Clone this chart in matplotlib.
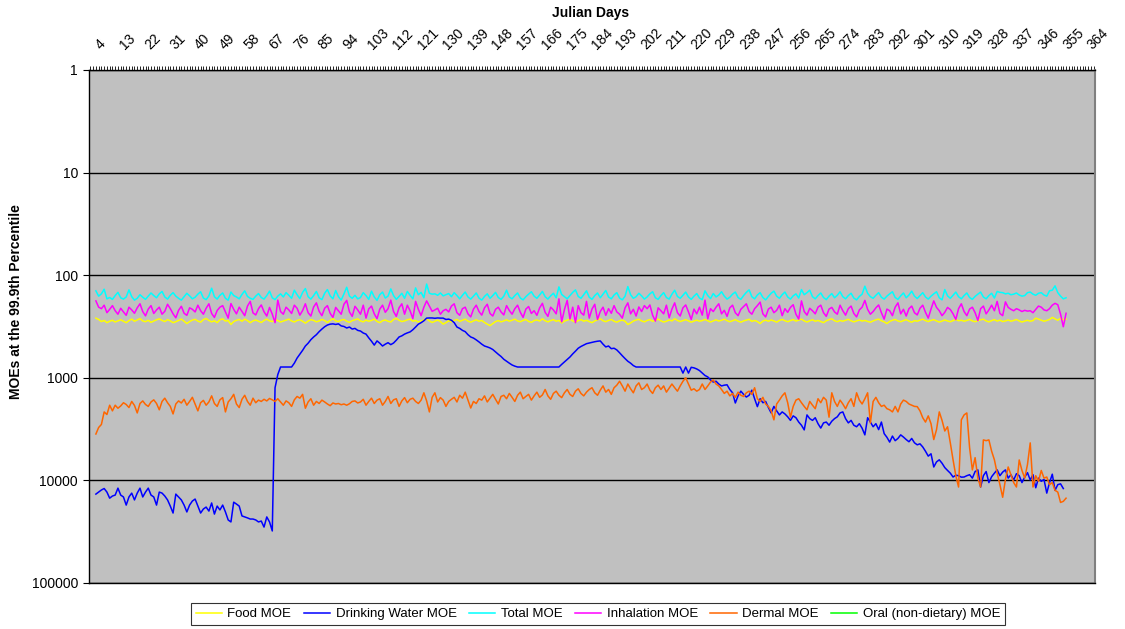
import matplotlib
matplotlib.use('Agg')
import matplotlib.pyplot as plt
from matplotlib.transforms import ScaledTranslation
from matplotlib.ticker import NullLocator
import numpy as np

plt.rcParams['font.family'] = ['Liberation Sans', 'DejaVu Sans']

FIRST_DAY = 3
xtick_days = list(range(4, 365, 9))
xtick_labels = [str(d) for d in xtick_days]
ytick_vals = [1, 10, 100, 1000, 10000, 100000]
ytick_labels = ["1", "10", "100", "1000", "10000", "100000"]

food = [
    262, 270, 283, 276, 290, 281, 275, 286, 279, 272,
    281, 290, 277, 268, 281, 273, 265, 279, 284, 275,
    288, 280, 272, 266, 276, 283, 271, 279, 290, 284,
    276, 268, 281, 296, 283, 274, 269, 280, 287, 271,
    264, 276, 285, 278, 290, 272, 266, 280, 277, 302,
    283, 275, 270, 281, 268, 277, 290, 279, 273, 281,
    289, 276, 268, 279, 283, 271, 277, 286, 280, 274,
    268, 279, 286, 276, 272, 281, 293, 280, 271, 276,
    285, 279, 270, 277, 289, 276, 265, 279, 283, 274,
    270, 281, 288, 277, 272, 266, 279, 285, 274, 281,
    276, 268, 282, 290, 278, 273, 281, 286, 270, 263,
    275, 283, 279, 272, 268, 281, 276, 286, 279, 273,
    266, 279, 289, 281, 274, 283, 300, 290, 278, 285,
    276, 270, 282, 275, 268, 280, 287, 279, 272, 281,
    276, 289, 300, 310, 296, 283, 277, 285, 279, 272,
    281, 275, 268, 279, 284, 276, 270, 282, 288, 277,
    273, 280, 266, 278, 285, 277, 271, 281, 276, 292,
    280, 274, 268, 279, 286, 277, 271, 281, 275, 283,
    290, 279, 272, 266, 278, 284, 276, 270, 281, 287,
    278, 274, 281, 302, 292, 280, 273, 269, 279, 285,
    276, 271, 281, 276, 268, 278, 286, 281, 273, 279,
    266, 276, 283, 277, 271, 279, 287, 280, 274, 281,
    277, 270, 278, 286, 279, 272, 280, 275, 268, 277,
    284, 278, 271, 280, 287, 279, 274, 269, 282, 276,
    283, 296, 280, 274, 281, 273, 279, 287, 276, 270,
    278, 284, 277, 271, 280, 274, 268, 279, 286, 278,
    272, 281, 276, 283, 290, 278, 271, 266, 278, 284,
    276, 281, 275, 269, 278, 285, 279, 273, 280, 276,
    282, 287, 279, 272, 268, 278, 285, 296, 282, 275,
    270, 279, 284, 277, 271, 280, 287, 277, 281, 274,
    268, 277, 283, 276, 271, 279, 286, 280, 273, 279,
    284, 277, 270, 278, 275, 281, 276, 270, 279, 284,
    277, 272, 268, 279, 285, 277, 271, 280, 274, 283,
    279, 273, 281, 276, 270, 279, 286, 280, 275, 281,
    277, 262, 268, 274, 281, 276, 270, 258, 266, 275,
    263, 272, 268,
]

drinking_water = [
    13600, 13000, 12400, 12000, 13000, 14900, 14200, 13900, 11900, 13900,
    14500, 17400, 14500, 13300, 15500, 13300, 11900, 14500, 13000, 11900,
    13900, 14500, 17400, 13000, 13300, 14200, 15500, 17800, 20800, 13600,
    14500, 15500, 17400, 20300, 17400, 15900, 15200, 17800, 20800, 19000,
    18200, 19900, 16600, 21300, 17800, 19400, 17400, 20300, 24300, 25400,
    16300, 17000, 17800, 22200, 22700, 23200, 23800, 23800, 24300, 25400,
    24900, 28500, 22700, 25400, 31100,
    1250, 930, 785, 785, 785, 785, 785, 720, 642, 590,
    540, 490, 460, 425, 400, 380, 355, 335, 318, 306,
    300, 298, 302, 298, 312, 316, 327, 320, 335, 330,
    345, 350, 366, 375, 408, 440, 480, 437, 460, 490,
    470, 455, 475, 458, 430, 400, 390, 375, 365, 357,
    340, 320, 300, 290, 278, 262, 261, 261, 263, 261,
    262, 262, 270, 268, 275, 290, 320, 330, 345, 355,
    380, 400, 410, 427, 447, 470, 490, 500, 512, 530,
    560, 590, 620, 660, 690, 720, 750, 770, 785, 785,
    785, 785, 785, 785, 785, 785, 785, 785, 785, 785,
    785, 785, 785, 785, 740, 700, 660, 627, 585, 550,
    515, 495, 480, 465, 458, 450, 445, 440, 437, 470,
    500, 490, 520, 515, 535, 570, 610, 650, 690, 720,
    760, 785, 785, 785, 785, 785, 785, 785, 785, 785,
    785, 785, 785, 785, 785, 785, 785, 785, 900, 785,
    900, 790, 800, 820, 850, 900, 950,
    980, 1050, 1100, 1080, 1150, 1200, 1180, 1170, 1300, 1400,
    1760, 1500, 1350, 1450, 1540, 1480, 1320, 1600, 1910, 1600,
    1750, 1700, 1950, 2200, 1900, 2100, 2300, 2150, 2250, 2400,
    2600, 2350, 2450, 2700, 2900, 3220, 2300, 2500, 2600, 2450,
    2800, 3090, 2750, 2700, 2900, 2650, 2500, 2400, 2200, 2150,
    2500, 2750, 2600, 2900, 3000, 2800, 3100, 3600, 2450, 2700,
    3000, 2800, 3200, 2700, 3500, 3800, 4230, 3700, 4100, 3900,
    3600, 3780, 4000, 4200, 3900, 4300, 4500, 4400, 4720, 5200,
    5800, 5500, 7400, 6600, 6300, 6800, 7500, 8000, 8500, 9270,
    8900, 9000, 9300, 9270, 9000, 8800, 9500, 8200, 7900, 11600,
    9000, 8200, 10500, 9200, 8500, 7900, 9000, 8300, 7900, 9500,
    8800, 9900, 8600, 9000, 10500, 9300, 8400, 9900, 8800, 11800,
    9500, 10200, 9800, 13300, 10500, 8700, 12500, 11000, 10800, 12000,
]

total = [
    142, 160, 152, 137, 170, 165, 172, 158, 147, 166,
    171, 163, 139, 162, 175, 168, 155, 164, 172, 160,
    149, 158, 166, 152, 144, 163, 171, 157, 148, 160,
    168, 175, 162, 150, 159, 170, 164, 153, 145, 167,
    173, 159, 134, 162, 171, 157, 149, 168, 175, 146,
    158, 163, 170, 154, 142, 161, 168, 172, 160, 151,
    165, 171, 158, 143, 166, 173, 160, 152, 163, 148,
    157, 168, 140, 155, 169, 147, 135, 162, 171, 158,
    144, 166, 173, 150, 138, 159, 170, 141, 162, 175,
    152, 131, 160, 168, 157, 170, 165, 148, 158, 172,
    143, 163, 176, 155, 146, 167, 160, 136, 158, 172,
    161, 150, 168, 144, 157, 170, 133, 155, 147, 166,
    122, 150, 153, 152, 157, 149, 159, 155, 151, 162,
    148, 158, 170, 157, 146, 163, 171, 160, 149, 167,
    175, 161, 152, 168, 158, 147, 165, 172, 160, 140,
    163, 170, 158, 149, 167, 174, 162, 153, 145, 160,
    168, 156, 144, 162, 171, 159, 150, 166, 130, 154,
    162, 170, 158, 147, 139, 161, 168, 155, 142, 164,
    172, 158, 149, 166, 153, 141, 163, 170, 156, 148,
    167, 174, 160, 129, 155, 168, 162, 150, 159, 171,
    163, 152, 145, 166, 172, 158, 148, 165, 171, 153,
    140, 161, 168, 157, 146, 163, 172, 160, 151, 167,
    173, 142, 158, 169, 151, 163, 156, 145, 160, 171,
    164, 153, 146, 165, 172, 158, 147, 139, 162, 170,
    156, 148, 165, 174, 161, 150, 143, 160, 168, 155,
    146, 163, 171, 159, 152, 167, 138, 155, 148, 140,
    162, 170, 158, 149, 165, 173, 160, 151, 166, 157,
    145, 162, 170, 158, 150, 167, 174, 161, 153, 128,
    150, 162, 168, 157, 148, 164, 171, 160, 152, 145,
    165, 172, 159, 149, 166, 156, 143, 160, 169, 158,
    148, 163, 171, 160, 152, 145, 166, 174, 138, 159,
    168, 157, 146, 162, 170, 158, 149, 165, 172, 161,
    153, 146, 163, 170, 158, 150, 167, 144, 147, 148,
    152, 150, 155, 153, 149, 156, 160, 158, 148, 146,
    153, 157, 150, 148, 156, 160, 142, 140, 127, 148,
    160, 170, 166,
]

inhalation = [
    178, 205, 212, 196, 232, 215, 198, 222, 240, 210,
    228, 246, 205, 218, 235, 208, 190, 226, 249, 214,
    198, 236, 218, 205, 240, 225, 192, 212, 238, 260,
    220, 201, 235, 246, 208, 215, 228, 196, 222, 240,
    210, 190, 236, 258, 221, 205, 198, 228, 262, 189,
    215, 238, 205, 226, 248, 200, 180, 233, 244, 212,
    195, 227, 250, 206, 240, 290, 175, 226, 240, 205,
    218, 236, 196, 210, 245, 221, 190, 232, 250, 204,
    186, 225, 248, 210, 198, 235, 258, 206, 222, 240,
    192, 176, 228, 252, 201, 218, 240, 196, 262, 213,
    200, 238, 265, 214, 196, 230, 212, 175, 226, 252,
    208, 190, 240, 196, 222, 265, 180, 215, 248, 205,
    178, 200, 225, 218, 210, 240, 222, 215, 228, 200,
    190, 232, 246, 212, 205, 238, 255, 214, 196, 226,
    245, 208, 192, 236, 250, 215, 205, 228, 244, 198,
    221, 240, 212, 196, 230, 258, 214, 202, 236, 222,
    246, 208, 188, 230, 252, 205, 218, 238, 170, 285,
    216, 176, 268, 205, 290, 198, 232, 245, 180, 262,
    214, 192, 270, 226, 205, 246, 212, 235, 198, 228,
    240, 262, 208, 186, 238, 215, 250, 204, 226, 198,
    212, 195, 246, 280, 208, 222, 238, 196, 260, 214,
    186, 232, 250, 208, 195, 228, 270, 214, 238, 205,
    245, 175, 266, 212, 226, 205, 190, 238, 220, 252,
    208, 196, 232, 248, 215, 202, 190, 226, 240, 212,
    198, 183, 238, 255, 214, 205, 232, 220, 196, 248,
    212, 230, 206, 194, 240, 268, 178, 226, 245, 210,
    222, 238, 205, 196, 232, 252, 214, 206, 228, 240,
    196, 222, 245, 212, 200, 236, 255, 218, 205, 176,
    215, 240, 226, 208, 195, 232, 268, 214, 222, 248,
    205, 186, 238, 215, 250, 212, 200, 232, 244, 210,
    196, 230, 262, 214, 178, 206, 222, 248, 230, 206,
    216, 238, 270, 212, 190, 226, 248, 214, 205, 232,
    276, 212, 200, 238, 218, 196, 222, 180, 236, 248,
    182, 206, 215, 222, 212, 218, 226, 220, 224, 222,
    232, 215, 200, 205, 218, 222, 212, 196, 188, 194,
    240, 318, 235,
]

dermal = [
    3530, 3050, 2850, 2150, 2280, 1850, 2100, 1850, 1980, 1880,
    1750, 1820, 1950, 1700, 1860, 2200, 1780, 1680, 1820, 1900,
    1720, 1640, 1780, 2050, 1700, 1580, 1750, 1900, 2250, 1800,
    1680, 1760, 1620, 1850, 1700, 1550, 1800, 2100, 1750, 1660,
    1850, 1720, 1500, 1780, 1900, 1640, 1560, 2150, 1720, 1600,
    1450, 1800, 1950, 1620, 1480, 1700, 1850, 1580, 1750, 1650,
    1700, 1620, 1680, 1590, 1640, 1700, 1600, 1720, 1850, 1680,
    1750, 1900, 1640, 1520, 1580, 1450, 1980, 1720, 1600, 1850,
    1700, 1780, 1650, 1720, 1800, 1870, 1760, 1800, 1780, 1830,
    1800, 1850, 1790, 1700, 1680, 1760, 1720, 1620, 1850, 1700,
    1580, 1780, 1650, 1600, 1850, 1700, 1520, 1780, 1640, 1600,
    1900, 1680, 1560, 1750, 1620, 1580, 1700, 1780, 1650, 1400,
    1680, 2150, 1550, 1400, 1720, 1560, 1650, 1900, 1700, 1620,
    1550, 1720, 1480, 1580, 1380, 1650, 1970, 1700, 1780, 1600,
    1650, 1500, 1720, 1580, 1450, 1620, 1800, 1520, 1480, 1600,
    1420, 1550, 1700, 1480, 1380, 1600, 1520, 1450, 1650, 1500,
    1380, 1550, 1470, 1300, 1500, 1620, 1420, 1350, 1480, 1560,
    1400, 1300, 1450, 1520, 1350, 1280, 1420, 1500, 1380, 1300,
    1250, 1400, 1480, 1320, 1200, 1380, 1300, 1450, 1250, 1180,
    1080, 1200, 1350, 1150, 1280, 1400, 1200, 1120, 1300, 1250,
    1150, 1320, 1420, 1250, 1180, 1300, 1200, 1380, 1260, 1150,
    1250, 1350, 1200, 1080, 1000, 1150, 1320, 1280, 1350, 1300,
    1150, 1300, 1200, 1100, 1050, 1150, 1200, 1300, 1420, 1350,
    1500, 1420, 1550, 1380, 1480, 1520, 1400, 1350, 1450, 1250,
    1600, 1700, 1550, 1800, 1900, 2100, 2570, 1800, 1650, 1500,
    1400, 1750, 2420, 1900, 1650, 1600, 1750, 1900, 2050, 1700,
    1850, 2000, 1600, 1750, 1550, 1650, 2420, 1400, 1700, 1900,
    1650, 1800, 2000, 1750, 1600, 1900, 1400, 1650, 1800, 1600,
    1400, 2760, 1700, 1550, 1750, 1900, 1850, 2000, 2050, 2150,
    1900, 2150, 1800, 1650, 1700, 1800, 1850, 1900, 1910, 2100,
    2450, 2700, 2350, 2800, 4000, 3200, 2150, 2600, 3300, 3000,
    4300, 6300, 9000, 11600, 2570, 2300, 2200, 4800, 7900, 6000,
    9500, 11600, 4030, 4100, 4030, 5200, 6300, 8500, 11000, 14600,
    9800, 7400, 8800, 10500, 11600, 6320, 8000, 9500, 7000, 4310,
    11600, 9000, 10200, 8000, 9500, 9270, 11000, 10500, 12500, 13000,
    16400, 16000, 14900,
]

oral = []

series = [
    ("Food MOE", food, "#FFFF00"),
    ("Drinking Water MOE", drinking_water, "#0000FF"),
    ("Total MOE", total, "#00FFFF"),
    ("Inhalation MOE", inhalation, "#FF00FF"),
    ("Dermal MOE", dermal, "#FF6600"),
    ("Oral (non-dietary) MOE", oral, "#00FF00"),
]

W, H = 1125, 629
fig = plt.figure(figsize=(W / 100, H / 100), dpi=100)
ax = fig.add_axes([89 / W, 1 - 583 / H, (1095 - 89) / W, (583 - 70) / H])
ax.set_facecolor("#C0C0C0")

handles = []
for name, vals, col in series:
    x = FIRST_DAY + np.arange(len(vals))
    (ln,) = ax.plot(x, vals, color=col, lw=1.1, label=name)
    handles.append(ln)

ax.set_yscale("log")
ax.set_ylim(100000, 1)
ax.set_yticks(ytick_vals)
ax.set_yticklabels(ytick_labels, fontsize=10)
ax.yaxis.set_minor_locator(NullLocator())
ax.grid(axis="y", color="black", lw=1.0)
ax.set_axisbelow(True)
ax.tick_params(axis="y", which="major", length=4, width=0.8, direction="out", pad=4)

ax.set_xlim(0.5, 365.5)
ax.xaxis.tick_top()
ax.set_xticks(xtick_days)
ax.set_xticklabels(xtick_labels, rotation=45, ha="left", va="bottom",
                   rotation_mode="anchor", fontsize=10)
ax.set_xticks(np.arange(1, 366), minor=True)
ax.tick_params(axis="x", which="both", length=3, width=0.6, direction="out",
               top=True, bottom=False, pad=10)
offset = ScaledTranslation(4 / 100, 0, fig.dpi_scale_trans)
for lab in ax.get_xticklabels():
    lab.set_transform(lab.get_transform() + offset)

for s in ["left", "top", "bottom"]:
    ax.spines[s].set_color("black")
    ax.spines[s].set_linewidth(1.0)
ax.spines["right"].set_color("#808080")
ax.spines["right"].set_linewidth(1.5)

fig.text(591 / W, 1 - 13 / H, "Julian Days", ha="center", va="center",
         fontsize=10, fontweight="bold")
fig.text(16 / W, 1 - 302 / H, "MOEs at the 99.9th Percentile", ha="center",
         va="center", rotation=90, fontsize=10, fontweight="bold")

leg = fig.legend(handles=handles, loc="center", bbox_to_anchor=(598 / W, 1 - 614 / H),
                 ncol=6, fontsize=9.5, frameon=True, fancybox=False,
                 edgecolor="black", handlelength=2.0, handletextpad=0.4,
                 columnspacing=0.95, borderpad=0.35, borderaxespad=0.0)
leg.get_frame().set_linewidth(0.8)

fig.savefig("out.png", dpi=100)
